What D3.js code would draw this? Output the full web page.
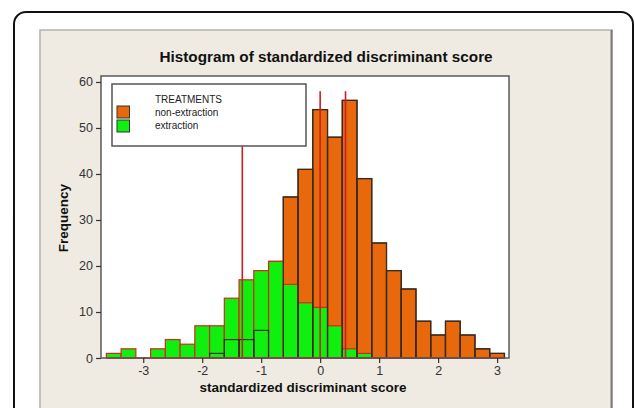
<!DOCTYPE html>
<html>
<head>
<meta charset="utf-8">
<script src="https://cdn.jsdelivr.net/npm/d3@7"></script>
<style>
  body { margin: 0; background: #fff; }
  svg { display: block; font-family: "Liberation Sans", Arial, sans-serif; }
</style>
</head>
<body>
<div id="area"></div>
<script>
// histogram bins (midpoints, width 0.25)
var binMids = [-3.5, -3.25, -3, -2.75, -2.5, -2.25, -2, -1.75, -1.5, -1.25, -1, -0.75, -0.5,
               -0.25, 0, 0.25, 0.5, 0.75, 1, 1.25, 1.5, 1.75, 2, 2.25, 2.5, 2.75, 3];
var binWidth = 0.25;
var nonExtraction = [0, 0, 0, 0, 0, 0, 0, 1, 4, 4, 6, 21, 35,
                     41, 54, 48, 56, 39, 25, 19, 15, 8, 5, 8, 5, 2, 1];
var extraction = [1, 2, 0, 2, 4, 3, 7, 7, 13, 17, 19, 21, 16,
                  12, 11, 7, 2, 1, 0, 0, 0, 0, 0, 0, 0, 0, 0];
// vertical reference lines: x position and height reached
var refX = [-1.32, 0.0, 0.43];
var refTop = [46, 58, 58];
var xTicks = [-3, -2, -1, 0, 1, 2, 3];
var yTicks = [0, 10, 20, 30, 40, 50, 60];
var seriesNames = ["non-extraction", "extraction"];
var seriesColors = ["#e8690b", "#0ff00f"];

var width = 635, height = 408;
var margin_left = 101, margin_right = 130, margin_top = 76, margin_bottom = 50;

var svg = d3.select("#area")
  .append("svg")
  .attr("width", width)
  .attr("height", height);

// outer rounded frame and beige panel
svg.append("rect")
  .attr("x", 14).attr("y", 12).attr("width", 619).attr("height", 430)
  .attr("rx", 12).attr("ry", 12)
  .style("fill", "#fff").style("stroke", "#111").style("stroke-width", 2);
svg.append("rect")
  .attr("x", 40).attr("y", 30).attr("width", 572).attr("height", 400)
  .style("fill", "#efebe2").style("stroke", "#b4b2ac").style("stroke-width", 1.5);
svg.append("line")
  .attr("x1", 611.5).attr("x2", 611.5).attr("y1", 30).attr("y2", 408)
  .style("stroke", "#7a7a7a").style("stroke-width", 2);

var x = d3.scaleLinear()
  .domain([-3.716, 3.202])
  .range([margin_left, width - margin_right + 4]);
var y = d3.scaleLinear()
  .domain([0, 61.3])
  .range([height - margin_bottom, margin_top]);

// plot area
svg.append("rect")
  .attr("x", x.range()[0]).attr("y", y.range()[1])
  .attr("width", x.range()[1] - x.range()[0])
  .attr("height", y.range()[0] - y.range()[1])
  .style("fill", "#fff");

var bins = binMids.map(function(m, i) {
  return { x0: m - binWidth / 2, x1: m + binWidth / 2, a: nonExtraction[i], b: extraction[i] };
});

var g = svg.append("g");

// non-extraction bars (behind)
g.selectAll(".barA")
  .data(bins.filter(function(d) { return d.a > 0; }))
  .enter().append("rect")
  .attr("class", "barA")
  .attr("x", function(d) { return x(d.x0); })
  .attr("y", function(d) { return y(d.a); })
  .attr("width", function(d) { return x(d.x1) - x(d.x0); })
  .attr("height", function(d) { return y(0) - y(d.a); })
  .style("fill", seriesColors[0])
  .style("stroke", "#3a2a20").style("stroke-width", 1.2);

// extraction bars
g.selectAll(".barB")
  .data(bins.filter(function(d) { return d.b > 0; }))
  .enter().append("rect")
  .attr("class", "barB")
  .attr("x", function(d) { return x(d.x0); })
  .attr("y", function(d) { return y(d.b); })
  .attr("width", function(d) { return x(d.x1) - x(d.x0); })
  .attr("height", function(d) { return y(0) - y(d.b); })
  .style("fill", seriesColors[1])
  .style("stroke", "#d8261e").style("stroke-width", 1.2);

// non-extraction outlines on top
g.selectAll(".outA")
  .data(bins.filter(function(d) { return d.a > 0 && d.a !== d.b; }))
  .enter().append("rect")
  .attr("class", "outA")
  .attr("x", function(d) { return x(d.x0); })
  .attr("y", function(d) { return y(d.a); })
  .attr("width", function(d) { return x(d.x1) - x(d.x0); })
  .attr("height", function(d) { return y(0) - y(d.a); })
  .style("fill", "none")
  .style("stroke", "#3a2a20").style("stroke-width", 1.2);

// red baseline under the bins
g.append("line")
  .attr("x1", x(bins[0].x0)).attr("x2", x(bins[bins.length - 1].x1))
  .attr("y1", y(0)).attr("y2", y(0))
  .style("stroke", "#d8261e").style("stroke-width", 1.5);

// reference lines
g.selectAll(".ref")
  .data(refX)
  .enter().append("line")
  .attr("x1", function(d) { return x(d); })
  .attr("x2", function(d) { return x(d); })
  .attr("y1", function(d, i) { return y(refTop[i]); })
  .attr("y2", y(0))
  .style("stroke", "#cc1f1f").style("stroke-width", 1.6);

// frame
svg.append("rect")
  .attr("x", x.range()[0]).attr("y", y.range()[1])
  .attr("width", x.range()[1] - x.range()[0])
  .attr("height", y.range()[0] - y.range()[1])
  .style("fill", "none").style("stroke", "#5a5a5a").style("stroke-width", 1.5);

// axes
var xAxis = svg.append("g")
  .attr("transform", "translate(0," + y(0) + ")")
  .call(d3.axisBottom(x).tickValues(xTicks).tickSize(5).tickPadding(3).tickFormat(d3.format("d")));
var yAxis = svg.append("g")
  .attr("transform", "translate(" + x.range()[0] + ",0)")
  .call(d3.axisLeft(y).tickValues(yTicks).tickSize(5).tickPadding(3));
[xAxis, yAxis].forEach(function(ax) {
  ax.select(".domain").remove();
  ax.selectAll("line").style("stroke", "#333").style("stroke-width", 1.2);
  ax.selectAll("text").style("font-size", "12.5px").style("fill", "#333")
    .style("font-family", "'Liberation Sans', Arial, sans-serif");
});
xAxis.selectAll("text").text(function(d) { return d < 0 ? "-" + Math.abs(d) : d; });

// titles
svg.append("text")
  .attr("x", 326).attr("y", 62)
  .attr("text-anchor", "middle")
  .style("font-size", "15.3px").style("font-weight", "bold").style("fill", "#111")
  .text("Histogram of standardized discriminant score");
svg.append("text")
  .attr("x", 303).attr("y", 391.5)
  .attr("text-anchor", "middle")
  .style("font-size", "13.5px").style("font-weight", "bold").style("fill", "#111")
  .text("standardized discriminant score");
svg.append("text")
  .attr("transform", "translate(68,218) rotate(-90)")
  .attr("text-anchor", "middle")
  .style("font-size", "13.5px").style("font-weight", "bold").style("fill", "#111")
  .text("Frequency");

// legend
var legend = svg.append("g");
legend.append("rect")
  .attr("x", 112).attr("y", 84).attr("width", 194).attr("height", 62)
  .style("fill", "#fff").style("stroke", "#555").style("stroke-width", 1.5);
legend.append("text")
  .attr("x", 155).attr("y", 103)
  .style("font-size", "10px").style("fill", "#222")
  .text("TREATMENTS");
seriesNames.forEach(function(name, i) {
  legend.append("rect")
    .attr("x", 117).attr("y", 106 + i * 14).attr("width", 12.5).attr("height", 12)
    .style("fill", seriesColors[i]).style("stroke", "#333").style("stroke-width", 1);
  legend.append("text")
    .attr("x", 155).attr("y", 116 + i * 12.5)
    .style("font-size", "10px").style("fill", "#222")
    .text(name);
});
</script>
</body>
</html>
